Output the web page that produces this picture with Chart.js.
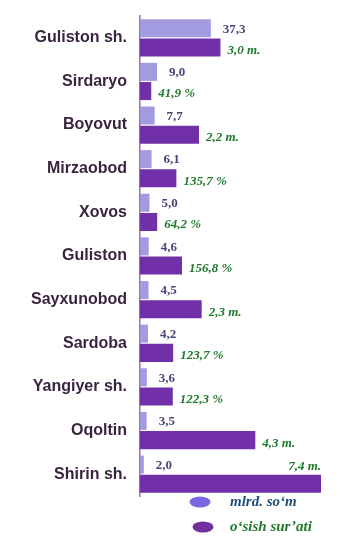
<!DOCTYPE html>
<html>
<head>
<meta charset="utf-8">
<script src="https://cdn.jsdelivr.net/npm/chart.js@4"></script>
<style>
  html, body { margin: 0; padding: 0; background: #fff; }
  #wrap { width: 359px; height: 543px; }
</style>
</head>
<body>
<div id="wrap"><canvas id="rayonChart"></canvas></div>
<script>
const districts = ['Guliston sh.', 'Sirdaryo', 'Boyovut', 'Mirzaobod', 'Xovos', 'Guliston',
  'Sayxunobod', 'Sardoba', 'Yangiyer sh.', 'Oqoltin', 'Shirin sh.'];
// mlrd. so'm
const volume = [37.3, 9.0, 7.7, 6.1, 5.0, 4.6, 4.5, 4.2, 3.6, 3.5, 2.0];
// o'sish sur'ati, in percent (x m. = x*100 %)
const growth = [300, 41.9, 220, 135.7, 64.2, 156.8, 230, 123.7, 122.3, 430, 740];
const growthText = ['3,0 m.', '41,9 %', '2,2 m.', '135,7 %', '64,2 %', '156,8 %',
  '2,3 m.', '123,7 %', '122,3 %', '4,3 m.', '7,4 m.'];
const legendText = ['mlrd. so\u2018m', 'o\u2018sish sur\u2019ati'];

const fmt = v => v.toFixed(1).replace('.', ',');

const valueLabels = {
  id: 'valueLabels',
  afterDatasetsDraw(chart) {
    const ctx = chart.ctx;
    const area = chart.chartArea;
    ctx.save();
    ctx.textBaseline = 'middle';
    chart.getDatasetMeta(0).data.forEach((bar, i) => {
      ctx.font = 'bold 13px "Liberation Serif", serif';
      ctx.fillStyle = '#45457a';
      ctx.textAlign = 'left';
      ctx.fillText(fmt(volume[i]), bar.x + 12, bar.y + 1);
    });
    chart.getDatasetMeta(1).data.forEach((bar, i) => {
      ctx.font = 'italic bold 13px "Liberation Serif", serif';
      ctx.fillStyle = '#1f7a2a';
      if (bar.x > area.right) {
        ctx.textAlign = 'right';
        ctx.fillText(growthText[i], area.right, bar.y - 17);
      } else {
        ctx.textAlign = 'left';
        ctx.fillText(growthText[i], bar.x + 7, bar.y + 3);
      }
    });
    ctx.restore();
  }
};

const ovalLegend = {
  id: 'ovalLegend',
  afterDraw(chart) {
    const ctx = chart.ctx;
    const rows = [
      { cx: 200, cy: 502, color: '#7b68e0', text: '#1f4e79' },
      { cx: 203, cy: 527, color: '#7030a0', text: '#1f7a2a' }
    ];
    ctx.save();
    ctx.font = 'italic bold 15px "Liberation Serif", serif';
    ctx.textBaseline = 'middle';
    ctx.textAlign = 'left';
    rows.forEach((r, i) => {
      ctx.fillStyle = r.color;
      ctx.beginPath();
      ctx.ellipse(r.cx, r.cy, 10.5, 5.5, 0, 0, Math.PI * 2);
      ctx.fill();
      ctx.fillStyle = r.text;
      ctx.fillText(legendText[i], 230, r.cy);
    });
    ctx.restore();
  }
};

new Chart(document.getElementById('rayonChart'), {
  type: 'bar',
  data: {
    labels: districts,
    datasets: [{
      label: legendText[0],
      data: volume,
      xAxisID: 'x',
      backgroundColor: '#a29be0',
      categoryPercentage: 0.88,
      barPercentage: 0.94
    }, {
      label: legendText[1],
      data: growth,
      xAxisID: 'x2',
      backgroundColor: '#7230a8',
      categoryPercentage: 0.88,
      barPercentage: 0.94
    }]
  },
  plugins: [valueLabels, ovalLegend],
  options: {
    indexAxis: 'y',
    responsive: true,
    maintainAspectRatio: false,
    animation: false,
    layout: {
      padding: { top: 16, bottom: 47, right: 38, left: 0 }
    },
    scales: {
      x: { display: false, min: 0, max: 95.3 },
      x2: { display: false, min: 0, max: 675 },
      y: {
        afterFit(scale) {
          scale.width = 140;
          scale.paddingTop = 0;
          scale.paddingBottom = 0;
        },
        grid: { display: false, drawTicks: false },
        border: { color: '#b060c0', width: 1.5 },
        ticks: {
          padding: 13,
          color: '#3a2540',
          font: { family: '"Liberation Sans", Arial, sans-serif', size: 16, weight: 'bold' }
        }
      }
    },
    plugins: {
      legend: { display: false },
      tooltip: { enabled: false }
    }
  }
});
</script>
</body>
</html>
